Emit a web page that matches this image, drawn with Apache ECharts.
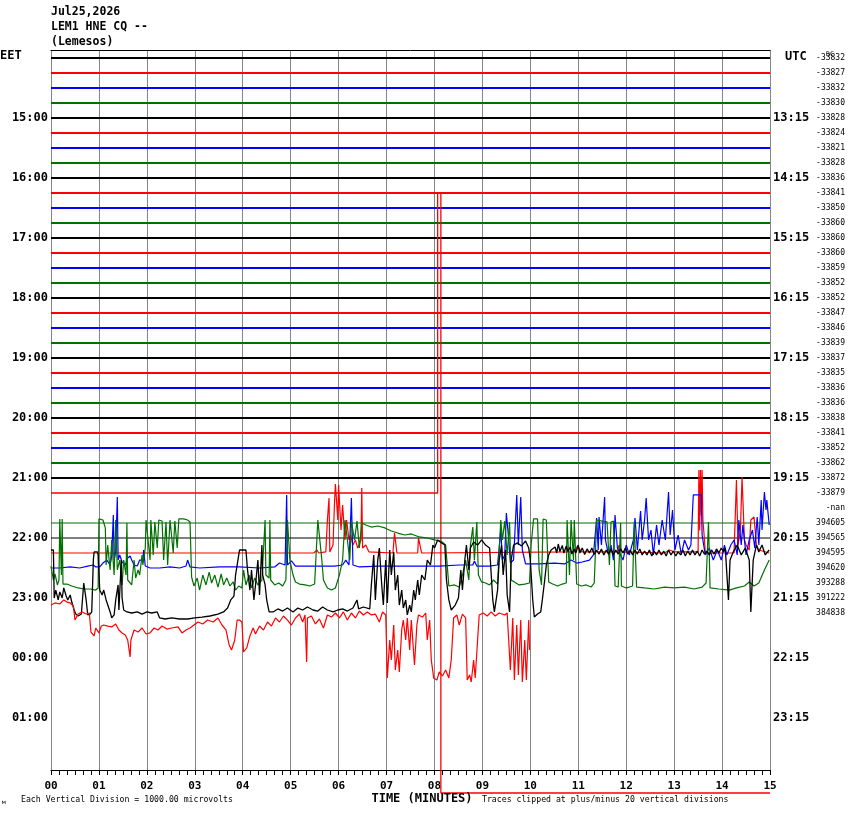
<!DOCTYPE html>
<html>
<head>
<meta charset="utf-8">
<script src="https://cdn.jsdelivr.net/npm/echarts@6/dist/echarts.min.js"></script>
<style>
html,body{margin:0;padding:0;background:#fff;}
#chart{width:850px;height:814px;}
</style>
</head>
<body>
<div id="chart"></div>
<script>
// ---------- labels ----------
const stationTitle = ['Jul25,2026', 'LEM1 HNE CQ --', '(Lemesos)'];
const minuteTicks = ['00','01','02','03','04','05','06','07','08','09','10','11','12','13','14','15'];
const eetLabels = ['15:00','16:00','17:00','18:00','19:00','20:00','21:00','22:00','23:00','00:00','01:00'];
const utcLabels = ['13:15','14:15','15:15','16:15','17:15','18:15','19:15','20:15','21:15','22:15','23:15'];
const dcLabels = ['-33832','-33827','-33832','-33830','-33828','-33824','-33821','-33828','-33836','-33841',
  '-33850','-33860','-33860','-33860','-33859','-33852','-33852','-33847','-33846','-33839',
  '-33837','-33835','-33836','-33836','-33838','-33841','-33852','-33862','-33872','-33879',
  '-nan','394605','394565','394595','394620','393288','391222','384838'];

// ---------- trace data: [seconds into the row, amplitude in vertical divisions] ----------
const quietRows = 29;               // rows 0..28 are quiet, flat traces
const quietTrace = [[0,0],[900,0]];
const flatTrace = [[0,0],[900,0]];  // rows 31-33 (constant)
// row 29: offset jump, clipped at +/-20 divisions
const row29 = [[0,0],[484,0],[484,20],[488,20],[488,-20],[900,-20]];

const row33 = [[0,0],[329,0],[333,0.2],[335,0],[344,0.07],[346,2.2],[348,3.67],[349,0.07],[353,0.53],[355,3.53],[356,4.6],[359,2.2],[360,4.53],[363,1.53],[365,3.2],[368,0.87],[370,2.2],[373,0.87],[375,1.2],[378,0.53],[381,0.87],[384,0.33],[388,0.87],[389,4.33],[390,0.33],[394,0.53],[398,0.07],[428,0],[430,1.33],[433,0],[459,0],[460,1.0],[464,0],[655,0.07],[659,0.47],[664,0.07],[709,0.07],[711,0.53],[715,0.07],[768,0],[774,0.2],[781,0.07],[810,0.07],[811,5.53],[812,1.5],[813,5.53],[814,2.5],[815,5.53],[816,2.2],[818,0.87],[819,0],[855,0],[858,4.87],[860,0.53],[863,1.53],[865,5.07],[868,0.87],[870,0.53],[874,0.2],[876,2.2],[880,2.4],[883,0.53],[886,0.2],[899,0]];

const row34 = [[0,0],[11,0],[24,0.07],[36,0],[46,0.13],[53,0.2],[56,0.07],[61,0.07],[65,0.33],[70,0.53],[74,0.2],[76,0.8],[78,3.53],[79,0.53],[81,1.07],[83,4.73],[84,0.53],[86,0.87],[89,0.4],[93,0.2],[96,0.67],[99,0.8],[101,0.53],[104,0.2],[108,0.13],[111,0.53],[115,0.53],[116,1.2],[118,0.13],[124,0],[136,0],[149,0.07],[161,0],[169,0.13],[171,0.53],[174,0.07],[186,0],[211,0.07],[236,0.07],[261,0],[280,0.07],[286,0.33],[293,0.2],[295,4.87],[296,0.2],[301,0.47],[306,0.13],[318,0.13],[336,0.13],[355,0.13],[365,0.2],[369,0.53],[373,0.2],[376,4.67],[378,0.2],[386,0.07],[411,0.13],[436,0.13],[461,0.13],[486,0.13],[511,0.2],[528,0.2],[530,0.47],[533,0.13],[549,0.13],[559,0.2],[563,2.53],[565,0.53],[568,0.87],[570,3.67],[573,1.87],[575,0.33],[579,0.53],[583,4.87],[585,1.53],[588,4.73],[590,1.2],[594,0.27],[611,0.27],[630,0.33],[643,0.27],[651,0.53],[658,0.33],[665,0.4],[674,0.53],[679,0.87],[683,3.33],[685,1.2],[686,3.4],[689,1.53],[693,4.73],[694,1.87],[698,0.87],[701,1.53],[704,0.53],[706,3.53],[709,1.33],[713,0.87],[716,0.53],[720,1.53],[724,0.87],[729,1.87],[731,3.33],[734,1.2],[738,3.8],[740,1.87],[743,3.2],[745,4.67],[748,1.87],[751,2.53],[754,0.87],[758,2.87],[761,1.53],[765,3.2],[769,1.87],[773,5.07],[775,2.2],[778,3.87],[781,1.2],[785,2.2],[789,0.87],[793,1.87],[798,1.2],[801,1.53],[804,4.87],[814,4.87],[815,2.2],[819,0.87],[824,1.33],[829,0.53],[834,1.2],[839,0.53],[843,1.53],[846,0.87],[851,1.53],[855,1.87],[859,0.87],[861,3.2],[864,1.53],[866,2.87],[870,0.87],[874,1.87],[878,2.53],[881,1.33],[884,3.4],[886,1.53],[889,4.53],[890,2.53],[893,5.07],[895,3.87],[896,4.53],[899,2.87]];

const row35 = [[0,1.13],[3,0.2],[5,0.6],[8,-0.13],[10,0.2],[11,4.27],[13,0.53],[14,4.27],[15,-0.07],[20,-0.07],[26,-0.2],[34,-0.33],[41,-0.4],[49,-0.4],[56,-0.47],[59,-0.33],[60,4.27],[65,4.2],[68,3.67],[69,1.2],[71,2.53],[74,0.87],[76,2.87],[79,0.53],[81,4.2],[83,0.87],[86,1.53],[89,-0.13],[91,1.53],[94,0.53],[95,4.0],[96,0.2],[101,-0.13],[104,1.53],[106,0.33],[109,0.87],[111,0.53],[114,1.87],[115,1.2],[118,2.33],[119,4.2],[121,4.07],[124,1.53],[125,4.2],[128,1.87],[130,4.07],[133,2.33],[135,4.2],[139,4.13],[141,1.53],[144,4.07],[146,1.2],[149,4.2],[153,2.0],[155,4.13],[158,2.33],[160,4.27],[166,4.27],[171,4.2],[174,4.07],[176,0.4],[179,-0.2],[183,0.33],[186,-0.47],[190,0.53],[194,-0.13],[198,0.73],[201,0],[205,0.53],[209,-0.27],[213,0.6],[216,-0.13],[220,0.33],[224,-0.2],[228,0.07],[231,-0.47],[235,-0.2],[239,-0.33],[241,0.87],[244,-0.13],[248,0.53],[251,-0.33],[255,0.33],[259,-0.13],[264,0.2],[268,4.2],[269,0.53],[273,0.33],[274,4.2],[275,0.2],[280,-0.13],[285,0],[290,-0.2],[294,0.2],[296,4.2],[299,1.53],[303,0.53],[306,0.07],[311,-0.07],[318,-0.13],[324,-0.2],[330,-0.07],[334,4.2],[336,4.07],[339,1.53],[341,0.2],[346,-0.33],[351,-0.47],[356,-0.33],[361,0.53],[365,1.53],[368,4.2],[370,4.13],[374,1.53],[376,4.07],[380,2.87],[383,4.13],[386,2.33],[389,4.0],[394,3.87],[401,3.73],[409,3.8],[418,3.67],[426,3.47],[434,3.33],[443,3.2],[451,3.27],[461,3.07],[471,3.0],[480,2.87],[488,2.8],[494,2.53],[498,-0.2],[505,-0.13],[511,-0.27],[515,0.53],[519,1.53],[523,0.2],[525,2.53],[528,3.73],[530,1.53],[533,4.07],[535,0.53],[539,0.07],[544,0],[549,-0.13],[554,0.2],[559,-0.07],[563,4.2],[565,2.87],[568,4.13],[571,1.87],[574,4.07],[576,0.2],[580,0.07],[586,-0.13],[593,-0.07],[599,0],[601,2.53],[604,4.27],[609,4.27],[611,0.87],[614,-0.13],[616,4.27],[620,4.2],[623,0.07],[628,-0.07],[634,-0.2],[640,-0.07],[645,0],[646,4.2],[649,0.53],[651,4.2],[654,1.53],[655,4.2],[658,-0.07],[664,-0.2],[670,-0.13],[676,-0.27],[680,0],[683,4.2],[690,4.13],[696,4.07],[699,1.2],[701,4.07],[704,4.13],[706,-0.2],[710,-0.27],[713,4.0],[714,-0.2],[720,-0.33],[724,-0.27],[728,-0.2],[730,4.07],[733,-0.27],[743,-0.33],[755,-0.4],[768,-0.27],[780,-0.33],[793,-0.27],[805,-0.4],[815,-0.27],[820,0],[823,4.07],[825,-0.33],[836,-0.4],[849,-0.47],[858,-0.33],[868,-0.2],[874,0.07],[880,-0.2],[886,0],[893,0.87],[899,1.53]];

const row36 = [[0,3.2],[3,3.2],[4,0],[6,0.53],[9,-0.13],[11,0.4],[14,0],[16,0.67],[19,0.13],[21,-0.13],[24,0.2],[26,-0.27],[29,-0.8],[31,-1.07],[34,-1.2],[38,-1.07],[40,-1.2],[41,1.0],[44,-0.13],[46,-1.13],[49,-1.07],[51,-0.93],[53,2.53],[54,3.07],[58,3.07],[59,2.87],[61,0.53],[64,0.2],[66,0.53],[69,-0.13],[71,0],[74,-0.93],[76,-1.33],[79,-1.13],[81,-0.13],[84,0.87],[85,-0.8],[88,2.53],[89,0],[91,-0.8],[95,-0.93],[101,-1.0],[108,-0.93],[114,-1.07],[120,-0.93],[126,-1.0],[133,-0.93],[136,-1.33],[143,-1.4],[151,-1.33],[161,-1.4],[171,-1.4],[180,-1.33],[189,-1.27],[199,-1.2],[209,-1.07],[216,-0.93],[221,-0.67],[225,-0.13],[229,0.13],[231,1.53],[234,2.53],[236,3.2],[244,3.2],[246,1.87],[249,0.53],[251,1.87],[254,-0.13],[256,0.87],[259,2.53],[261,0.2],[264,3.53],[265,1.53],[268,0.87],[270,-0.13],[273,-0.93],[278,-0.93],[284,-0.73],[290,-0.87],[296,-0.67],[303,-0.93],[309,-0.67],[315,-0.8],[321,-0.6],[328,-0.8],[334,-0.87],[340,-0.6],[346,-0.8],[353,-0.93],[359,-0.8],[365,-0.73],[371,-0.87],[378,-0.67],[383,-0.13],[385,-0.73],[391,-0.6],[399,-0.73],[401,0.87],[404,2.87],[406,-0.13],[409,2.53],[411,3.33],[414,0.87],[416,-0.47],[419,2.53],[421,-0.33],[424,3.2],[426,1.53],[429,3.07],[431,0.53],[434,1.53],[436,-0.47],[439,0.53],[441,-0.67],[444,-0.13],[446,-1.13],[449,-0.47],[451,-0.93],[454,0.53],[456,-0.13],[459,1.2],[461,0.2],[464,1.53],[468,1.2],[471,2.53],[475,2.2],[478,3.53],[480,3.33],[484,3.87],[489,3.67],[493,3.53],[495,1.2],[498,-0.13],[501,-0.8],[506,-0.47],[510,0],[513,1.87],[515,0.53],[518,2.53],[520,3.53],[523,1.87],[525,3.33],[529,3.73],[534,3.53],[539,3.87],[544,3.53],[549,3.33],[553,-0.13],[555,-0.93],[559,0.53],[561,2.53],[564,3.53],[566,1.53],[569,3.2],[571,0.2],[574,-0.93],[576,2.53],[579,3.53],[584,3.67],[589,3.47],[594,3.8],[598,3.33],[600,2.53],[603,-0.13],[605,-1.27],[609,-1.07],[613,-0.93],[615,-0.13],[618,1.2],[620,2.2],[623,2.87],[626,3.2],[631,3.4],[633,3.0],[635,3.6],[637,3.1],[640,3.5],[642,3.0],[645,3.47],[647,3.1],[650,3.4],[652,2.93],[655,3.27],[657,3.0],[660,3.53],[662,3.0],[665,3.33],[668,2.9],[671,3.27],[674,3.0],[677,3.33],[680,2.9],[683,3.2],[686,2.93],[689,3.27],[692,2.87],[695,3.2],[698,2.93],[701,3.27],[704,2.87],[707,3.2],[710,2.93],[713,3.27],[716,3.0],[719,3.33],[722,2.93],[725,3.2],[728,2.87],[731,3.2],[734,2.93],[737,3.27],[740,2.87],[743,3.13],[746,2.87],[749,3.2],[752,2.8],[755,3.13],[758,2.87],[761,3.2],[764,2.87],[767,3.13],[770,2.8],[773,3.2],[776,2.87],[779,3.13],[782,2.8],[785,3.07],[788,2.87],[791,3.2],[794,2.8],[797,3.13],[800,2.87],[803,3.2],[806,2.87],[809,3.13],[812,2.8],[815,3.2],[818,2.93],[821,3.13],[824,2.87],[827,3.2],[830,2.93],[833,3.27],[836,3.0],[839,3.33],[842,3.07],[844,3.33],[848,-0.13],[850,2.53],[854,3.07],[859,3.53],[864,2.87],[869,3.33],[874,2.53],[876,-0.93],[879,2.53],[883,3.53],[886,3.07],[890,3.53],[894,2.87],[899,3.2]];

const row37 = [[0,0.53],[5,0.67],[11,0.6],[16,0.87],[20,0.73],[24,0.67],[28,0.47],[30,-0.47],[34,-0.07],[39,0.07],[44,-0.07],[48,0],[50,-1.27],[54,-1.53],[56,-1.0],[60,-1.33],[63,-0.87],[66,-0.8],[71,-0.87],[76,-0.93],[81,-0.73],[85,-1.13],[89,-1.33],[93,-1.47],[96,-1.8],[99,-2.93],[100,-1.8],[104,-1.13],[109,-1.27],[114,-1.0],[119,-1.4],[124,-1.33],[129,-1.0],[134,-1.13],[139,-0.87],[145,-1.07],[151,-1.0],[159,-0.93],[164,-1.33],[169,-1.13],[174,-1.0],[179,-0.8],[184,-0.6],[190,-0.73],[196,-0.47],[203,-0.6],[209,-0.33],[214,-0.8],[219,-1.13],[223,-2.13],[226,-2.47],[230,-1.8],[233,-0.47],[236,-0.47],[239,-0.6],[241,-2.6],[245,-2.33],[249,-1.53],[253,-1.0],[256,-1.4],[261,-0.87],[266,-1.13],[271,-0.6],[276,-0.87],[281,-0.33],[286,-0.6],[291,-0.2],[296,-0.47],[301,-0.8],[306,-0.33],[311,-0.07],[315,-0.6],[318,-0.13],[320,-3.27],[321,-0.33],[326,-0.2],[331,-0.73],[336,-0.4],[341,-1.0],[346,-0.13],[351,-0.27],[356,0],[361,-0.33],[366,0.07],[371,-0.47],[376,0],[381,-0.33],[386,0.13],[391,-0.13],[396,0.07],[401,-0.13],[406,-0.07],[411,-0.6],[415,0.07],[419,-0.13],[421,-4.33],[424,-1.8],[426,-3.13],[429,-0.8],[431,-3.8],[434,-2.47],[436,-3.93],[439,-1.13],[441,-0.47],[444,-1.8],[446,-0.33],[449,-2.47],[451,-0.47],[455,-3.47],[458,-0.8],[460,-0.13],[465,-0.27],[469,0],[471,-1.8],[474,-0.47],[476,-3.13],[479,-4.33],[483,-4.47],[486,-3.93],[490,-4.2],[494,-3.8],[498,-4.33],[501,-3.13],[504,-0.33],[508,-0.13],[511,-0.8],[515,-0.07],[519,-0.33],[521,-4.47],[524,-4.13],[526,-4.6],[529,-3.13],[531,-4.33],[534,-1.8],[536,-0.13],[541,0],[546,-0.2],[551,0.07],[556,-0.2],[561,0],[568,-0.13],[571,0],[575,-3.8],[578,-0.33],[580,-4.47],[583,-0.8],[585,-4.13],[588,-0.47],[590,-4.6],[593,-1.8],[595,-4.47],[598,-0.47],[599,-2.47]];

// ---------- build ----------
const palette = ['#000000', '#ff0000', '#0000ff', '#007000'];
const NROWS = 48;
function rowColor(r) { return palette[r % 4]; }
function trace(row, pts, width, clip) {
  return {
    type: 'line', xAxisIndex: 0, yAxisIndex: 0,
    data: pts.map(p => [p[0], -row + p[1]]),
    symbol: 'none', showSymbol: false, silent: true, animation: false,
    clip: clip,
    lineStyle: { color: rowColor(row), width: width }
  };
}
const series = [];
for (let r = 0; r < quietRows; r++) series.push(trace(r, quietTrace, 2, true));
series.push(trace(29, row29, 1.3, false));
series.push(trace(31, flatTrace, 1.2, true));
series.push(trace(32, flatTrace, 1.2, true));
series.push(trace(33, row33, 1.2, true));
series.push(trace(34, row34, 1.2, true));
series.push(trace(35, row35, 1.2, true));
series.push(trace(36, row36, 1.3, true));
series.push(trace(37, row37, 1.2, true));

const leftCat = [], utcCat = [], dcCat = [];
for (let i = 0; i < NROWS; i++) {
  const k = i / 4 - 1;
  leftCat.push(i % 4 === 0 && k >= 0 && k < eetLabels.length ? eetLabels[k] : '');
  utcCat.push(i % 4 === 0 && k >= 0 && k < utcLabels.length ? utcLabels[k] : '');
  dcCat.push(i < dcLabels.length ? dcLabels[i] : '');
}

const MONO = '"DejaVu Sans Mono", monospace';
function txt(x, y, text, size, bold, align) {
  return { type: 'text', silent: true, z: 10,
    style: { x: x, y: y, text: text, fill: '#000',
      font: (bold ? 'bold ' : '') + size + 'px ' + MONO,
      align: align || 'left', textAlign: align || 'left',
      verticalAlign: 'middle', textVerticalAlign: 'middle' } };
}

const catAxisBase = {
  type: 'category', inverse: true, boundaryGap: true,
  axisLine: { show: false }, axisTick: { show: false }, splitLine: { show: false }
};

const option = {
  backgroundColor: '#ffffff',
  animation: false,
  grid: { left: 51, top: 50, width: 719, height: 720 },
  xAxis: [
    { type: 'value', min: 0, max: 900, interval: 60, position: 'bottom',
      axisLine: { show: true, onZero: false, lineStyle: { color: '#000', width: 1 } },
      axisTick: { show: true, length: 5, lineStyle: { color: '#000' } },
      minorTick: { show: true, splitNumber: 6, length: 5, lineStyle: { color: '#000' } },
      splitLine: { show: true, lineStyle: { color: '#858585', width: 1 } },
      axisLabel: { show: true, margin: 11, color: '#000', fontFamily: MONO, fontWeight: 'bold', fontSize: 11,
        showMinLabel: true, showMaxLabel: true,
        formatter: v => minuteTicks[Math.round(v / 60)] } },
    { type: 'value', min: 0, max: 900, position: 'top',
      axisLine: { show: true, onZero: false, lineStyle: { color: '#000', width: 1 } },
      axisTick: { show: false }, axisLabel: { show: false }, splitLine: { show: false } }
  ],
  yAxis: [
    { type: 'value', min: -(47 + 7 / 15), max: 8 / 15, show: false },
    Object.assign({}, catAxisBase, { position: 'left', data: leftCat,
      axisLabel: { interval: 0, margin: 3, color: '#000', fontFamily: MONO, fontWeight: 'bold', fontSize: 12 } }),
    Object.assign({}, catAxisBase, { position: 'right', data: utcCat,
      axisLabel: { interval: 0, margin: 3, color: '#000', fontFamily: MONO, fontWeight: 'bold', fontSize: 12 } }),
    Object.assign({}, catAxisBase, { position: 'right', data: dcCat,
      axisLabel: { interval: 0, margin: 75, align: 'right', color: '#000', fontFamily: MONO, fontSize: 8 } })
  ],
  graphic: [
    txt(51, 12, stationTitle[0], 11.5, true),
    txt(51, 27, stationTitle[1], 11.5, true),
    txt(51, 42, stationTitle[2], 11.5, true),
    txt(0, 56, 'EET', 12, true),
    txt(785, 57, 'UTC', 12, true),
    txt(826, 54, 'DC', 6.5, false),
    txt(422, 799, 'TIME (MINUTES)', 12, true, 'center'),
    txt(21, 800, 'Each Vertical Division = 1000.00 microvolts', 8.2, false),
    txt(482, 800, 'Traces clipped at plus/minus 20 vertical divisions', 8.2, false),
    txt(2, 802, 'м', 6, false)
  ],
  series: series
};

const chart = echarts.init(document.getElementById('chart'), null, { renderer: 'canvas' });
chart.setOption(option);
</script>
</body>
</html>
